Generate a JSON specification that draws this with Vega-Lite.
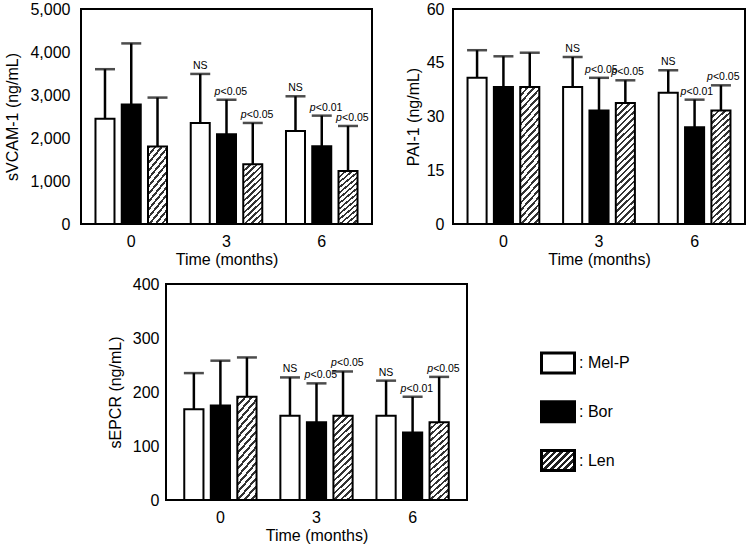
{
  "$schema": "https://vega.github.io/schema/vega-lite/v6.json",
  "padding": {"left": 3, "top": 0, "right": 0, "bottom": 0},
  "autosize": {"type": "pad"},
  "config": {
    "font": "Liberation Sans",
    "view": {"stroke": "black", "strokeWidth": 2},
    "axis": {"grid": false, "ticks": false, "domain": false, "labelFontSize": 16, "titleFontSize": 16, "labelColor": "black", "titleColor": "black", "titleFontWeight": "normal"},
    "text": {"color": "black"}
  },
  "datasets": {
    "vcam": [
      {"time": "0", "group": "Mel-P", "value": 2450, "err": 3600},
      {"time": "0", "group": "Bor", "value": 2780, "err": 4200},
      {"time": "0", "group": "Len", "value": 1800, "err": 2940},
      {"time": "3", "group": "Mel-P", "value": 2350, "err": 3490, "ns": "NS"},
      {"time": "3", "group": "Bor", "value": 2090, "err": 2890, "pv": "<0.05"},
      {"time": "3", "group": "Len", "value": 1390, "err": 2350, "pv": "<0.05"},
      {"time": "6", "group": "Mel-P", "value": 2160, "err": 2970, "ns": "NS"},
      {"time": "6", "group": "Bor", "value": 1810, "err": 2520, "pv": "<0.01"},
      {"time": "6", "group": "Len", "value": 1230, "err": 2280, "pv": "<0.05"}
    ],
    "pai": [
      {"time": "0", "group": "Mel-P", "value": 40.8, "err": 48.5},
      {"time": "0", "group": "Bor", "value": 38.2, "err": 46.8},
      {"time": "0", "group": "Len", "value": 38.2, "err": 47.8},
      {"time": "3", "group": "Mel-P", "value": 38.2, "err": 46.6, "ns": "NS"},
      {"time": "3", "group": "Bor", "value": 31.7, "err": 40.8, "pv": "<0.05"},
      {"time": "3", "group": "Len", "value": 33.8, "err": 40.1, "pv": "<0.05"},
      {"time": "6", "group": "Mel-P", "value": 36.6, "err": 42.9, "ns": "NS"},
      {"time": "6", "group": "Bor", "value": 27.0, "err": 34.7, "pv": "<0.01"},
      {"time": "6", "group": "Len", "value": 31.7, "err": 38.7, "pv": "<0.05"}
    ],
    "epcr": [
      {"time": "0", "group": "Mel-P", "value": 168, "err": 235},
      {"time": "0", "group": "Bor", "value": 175, "err": 258},
      {"time": "0", "group": "Len", "value": 191, "err": 264},
      {"time": "3", "group": "Mel-P", "value": 156, "err": 227, "ns": "NS"},
      {"time": "3", "group": "Bor", "value": 144, "err": 216, "pv": "<0.05"},
      {"time": "3", "group": "Len", "value": 156, "err": 238, "pv": "<0.05"},
      {"time": "6", "group": "Mel-P", "value": 156, "err": 221, "ns": "NS"},
      {"time": "6", "group": "Bor", "value": 125, "err": 191, "pv": "<0.01"},
      {"time": "6", "group": "Len", "value": 144, "err": 228, "pv": "<0.05"}
    ],
    "legend": [
      {"group": "Mel-P", "label": ": Mel-P", "order": 1},
      {"group": "Bor", "label": ": Bor", "order": 2},
      {"group": "Len", "label": ": Len", "order": 3}
    ]
  },
  "resolve": {"scale": {"x": "independent", "y": "independent", "xOffset": "independent"}},
  "spacing": 7,
  "vconcat": [
    {
      "hconcat": [
        {
          "width": 291, "height": 215,
          "data": {"name": "vcam"},
          "encoding": {
            "x": {"field": "time", "type": "ordinal", "scale": {"paddingInner": 0.249, "paddingOuter": 0.152}, "axis": {"title": "Time (months)", "labelAngle": 0, "labelPadding": 9, "titlePadding": 2}},
            "xOffset": {"field": "group", "type": "nominal", "scale": {"domain": ["Mel-P", "Bor", "Len"], "paddingInner": 0.276, "paddingOuter": 0}}
          },
          "layer": [
            {"mark": {"type": "rule", "color": "black", "strokeWidth": 2.5}, "encoding": {"y": {"field": "value", "type": "quantitative", "scale": {"domain": [0, 5000], "nice": false}, "axis": {"title": "sVCAM-1 (ng/mL)", "values": [0, 1000, 2000, 3000, 4000, 5000], "format": ",d", "labelPadding": 11, "titlePadding": 9}}, "y2": {"field": "err"}}},
            {"mark": {"type": "tick", "color": "black", "size": 20, "thickness": 2.5}, "encoding": {"y": {"field": "err", "type": "quantitative", "title": "sVCAM-1 (ng/mL)"}}},
            {"transform": [{"filter": "datum.group !== 'Len'"}], "mark": {"type": "bar", "stroke": "black", "strokeWidth": 2}, "encoding": {"y": {"field": "value", "type": "quantitative", "title": "sVCAM-1 (ng/mL)"}, "fill": {"field": "group", "type": "nominal", "scale": {"domain": ["Mel-P", "Bor"], "range": ["white", "black"]}, "legend": null}}},
            {"transform": [{"filter": "datum.group === 'Len'"}], "mark": {"type": "bar", "stroke": "black", "strokeWidth": 2, "fill": {"gradient": "linear", "x1": 0, "y1": 0, "x2": 0.36, "y2": 1.193, "stops": [
              {"offset": 0, "color": "#333"}, {"offset": 0.0308, "color": "#333"}, {"offset": 0.0308, "color": "#fff"}, {"offset": 0.0769, "color": "#fff"},
              {"offset": 0.0769, "color": "#333"}, {"offset": 0.1077, "color": "#333"}, {"offset": 0.1077, "color": "#fff"}, {"offset": 0.1538, "color": "#fff"},
              {"offset": 0.1538, "color": "#333"}, {"offset": 0.1846, "color": "#333"}, {"offset": 0.1846, "color": "#fff"}, {"offset": 0.2308, "color": "#fff"},
              {"offset": 0.2308, "color": "#333"}, {"offset": 0.2615, "color": "#333"}, {"offset": 0.2615, "color": "#fff"}, {"offset": 0.3077, "color": "#fff"},
              {"offset": 0.3077, "color": "#333"}, {"offset": 0.3385, "color": "#333"}, {"offset": 0.3385, "color": "#fff"}, {"offset": 0.3846, "color": "#fff"},
              {"offset": 0.3846, "color": "#333"}, {"offset": 0.4154, "color": "#333"}, {"offset": 0.4154, "color": "#fff"}, {"offset": 0.4615, "color": "#fff"},
              {"offset": 0.4615, "color": "#333"}, {"offset": 0.4923, "color": "#333"}, {"offset": 0.4923, "color": "#fff"}, {"offset": 0.5385, "color": "#fff"},
              {"offset": 0.5385, "color": "#333"}, {"offset": 0.5692, "color": "#333"}, {"offset": 0.5692, "color": "#fff"}, {"offset": 0.6154, "color": "#fff"},
              {"offset": 0.6154, "color": "#333"}, {"offset": 0.6462, "color": "#333"}, {"offset": 0.6462, "color": "#fff"}, {"offset": 0.6923, "color": "#fff"},
              {"offset": 0.6923, "color": "#333"}, {"offset": 0.7231, "color": "#333"}, {"offset": 0.7231, "color": "#fff"}, {"offset": 0.7692, "color": "#fff"},
              {"offset": 0.7692, "color": "#333"}, {"offset": 0.8, "color": "#333"}, {"offset": 0.8, "color": "#fff"}, {"offset": 0.8462, "color": "#fff"},
              {"offset": 0.8462, "color": "#333"}, {"offset": 0.8769, "color": "#333"}, {"offset": 0.8769, "color": "#fff"}, {"offset": 0.9231, "color": "#fff"},
              {"offset": 0.9231, "color": "#333"}, {"offset": 0.9538, "color": "#333"}, {"offset": 0.9538, "color": "#fff"}, {"offset": 1, "color": "#fff"}
            ]}}, "encoding": {"y": {"field": "value", "type": "quantitative", "title": "sVCAM-1 (ng/mL)"}}},
            {"transform": [{"filter": "datum.ns"}], "mark": {"type": "text", "fontSize": 10.5, "baseline": "alphabetic", "dy": -5}, "encoding": {"y": {"field": "err", "type": "quantitative", "title": "sVCAM-1 (ng/mL)"}, "text": {"field": "ns"}}},
            {"transform": [{"filter": "datum.pv"}], "mark": {"type": "text", "text": "p", "fontStyle": "italic", "fontSize": 10.5, "align": "left", "baseline": "alphabetic", "dx": -12, "dy": -5}, "encoding": {"y": {"field": "err", "type": "quantitative", "title": "sVCAM-1 (ng/mL)"}}},
            {"transform": [{"filter": "datum.pv"}], "mark": {"type": "text", "fontSize": 10.5, "align": "left", "baseline": "alphabetic", "dx": -6, "dy": -5}, "encoding": {"y": {"field": "err", "type": "quantitative", "title": "sVCAM-1 (ng/mL)"}, "text": {"field": "pv"}}}
          ]
        },
        {
          "width": 292, "height": 215,
          "data": {"name": "pai"},
          "encoding": {
            "x": {"field": "time", "type": "ordinal", "scale": {"paddingInner": 0.249, "paddingOuter": 0.152}, "axis": {"title": "Time (months)", "labelAngle": 0, "labelPadding": 9, "titlePadding": 2}},
            "xOffset": {"field": "group", "type": "nominal", "scale": {"domain": ["Mel-P", "Bor", "Len"], "paddingInner": 0.276, "paddingOuter": 0}}
          },
          "layer": [
            {"mark": {"type": "rule", "color": "black", "strokeWidth": 2.5}, "encoding": {"y": {"field": "value", "type": "quantitative", "scale": {"domain": [0, 60], "nice": false}, "axis": {"title": "PAI-1 (ng/mL)", "values": [0, 15, 30, 45, 60], "labelPadding": 9, "titlePadding": 5}}, "y2": {"field": "err"}}},
            {"mark": {"type": "tick", "color": "black", "size": 20, "thickness": 2.5}, "encoding": {"y": {"field": "err", "type": "quantitative", "title": "PAI-1 (ng/mL)"}}},
            {"transform": [{"filter": "datum.group !== 'Len'"}], "mark": {"type": "bar", "stroke": "black", "strokeWidth": 2}, "encoding": {"y": {"field": "value", "type": "quantitative", "title": "PAI-1 (ng/mL)"}, "fill": {"field": "group", "type": "nominal", "scale": {"domain": ["Mel-P", "Bor"], "range": ["white", "black"]}, "legend": null}}},
            {"transform": [{"filter": "datum.group === 'Len'"}], "mark": {"type": "bar", "stroke": "black", "strokeWidth": 2, "fill": {"gradient": "linear", "x1": 0, "y1": 0, "x2": 0.174, "y2": 1.128, "stops": [
              {"offset": 0, "color": "#333"}, {"offset": 0.0182, "color": "#333"}, {"offset": 0.0182, "color": "#fff"}, {"offset": 0.0455, "color": "#fff"},
              {"offset": 0.0455, "color": "#333"}, {"offset": 0.0636, "color": "#333"}, {"offset": 0.0636, "color": "#fff"}, {"offset": 0.0909, "color": "#fff"},
              {"offset": 0.0909, "color": "#333"}, {"offset": 0.1091, "color": "#333"}, {"offset": 0.1091, "color": "#fff"}, {"offset": 0.1364, "color": "#fff"},
              {"offset": 0.1364, "color": "#333"}, {"offset": 0.1545, "color": "#333"}, {"offset": 0.1545, "color": "#fff"}, {"offset": 0.1818, "color": "#fff"},
              {"offset": 0.1818, "color": "#333"}, {"offset": 0.2, "color": "#333"}, {"offset": 0.2, "color": "#fff"}, {"offset": 0.2273, "color": "#fff"},
              {"offset": 0.2273, "color": "#333"}, {"offset": 0.2455, "color": "#333"}, {"offset": 0.2455, "color": "#fff"}, {"offset": 0.2727, "color": "#fff"},
              {"offset": 0.2727, "color": "#333"}, {"offset": 0.2909, "color": "#333"}, {"offset": 0.2909, "color": "#fff"}, {"offset": 0.3182, "color": "#fff"},
              {"offset": 0.3182, "color": "#333"}, {"offset": 0.3364, "color": "#333"}, {"offset": 0.3364, "color": "#fff"}, {"offset": 0.3636, "color": "#fff"},
              {"offset": 0.3636, "color": "#333"}, {"offset": 0.3818, "color": "#333"}, {"offset": 0.3818, "color": "#fff"}, {"offset": 0.4091, "color": "#fff"},
              {"offset": 0.4091, "color": "#333"}, {"offset": 0.4273, "color": "#333"}, {"offset": 0.4273, "color": "#fff"}, {"offset": 0.4545, "color": "#fff"},
              {"offset": 0.4545, "color": "#333"}, {"offset": 0.4727, "color": "#333"}, {"offset": 0.4727, "color": "#fff"}, {"offset": 0.5, "color": "#fff"},
              {"offset": 0.5, "color": "#333"}, {"offset": 0.5182, "color": "#333"}, {"offset": 0.5182, "color": "#fff"}, {"offset": 0.5455, "color": "#fff"},
              {"offset": 0.5455, "color": "#333"}, {"offset": 0.5636, "color": "#333"}, {"offset": 0.5636, "color": "#fff"}, {"offset": 0.5909, "color": "#fff"},
              {"offset": 0.5909, "color": "#333"}, {"offset": 0.6091, "color": "#333"}, {"offset": 0.6091, "color": "#fff"}, {"offset": 0.6364, "color": "#fff"},
              {"offset": 0.6364, "color": "#333"}, {"offset": 0.6545, "color": "#333"}, {"offset": 0.6545, "color": "#fff"}, {"offset": 0.6818, "color": "#fff"},
              {"offset": 0.6818, "color": "#333"}, {"offset": 0.7, "color": "#333"}, {"offset": 0.7, "color": "#fff"}, {"offset": 0.7273, "color": "#fff"},
              {"offset": 0.7273, "color": "#333"}, {"offset": 0.7455, "color": "#333"}, {"offset": 0.7455, "color": "#fff"}, {"offset": 0.7727, "color": "#fff"},
              {"offset": 0.7727, "color": "#333"}, {"offset": 0.7909, "color": "#333"}, {"offset": 0.7909, "color": "#fff"}, {"offset": 0.8182, "color": "#fff"},
              {"offset": 0.8182, "color": "#333"}, {"offset": 0.8364, "color": "#333"}, {"offset": 0.8364, "color": "#fff"}, {"offset": 0.8636, "color": "#fff"},
              {"offset": 0.8636, "color": "#333"}, {"offset": 0.8818, "color": "#333"}, {"offset": 0.8818, "color": "#fff"}, {"offset": 0.9091, "color": "#fff"},
              {"offset": 0.9091, "color": "#333"}, {"offset": 0.9273, "color": "#333"}, {"offset": 0.9273, "color": "#fff"}, {"offset": 0.9545, "color": "#fff"},
              {"offset": 0.9545, "color": "#333"}, {"offset": 0.9727, "color": "#333"}, {"offset": 0.9727, "color": "#fff"}, {"offset": 1, "color": "#fff"}
            ]}}, "encoding": {"y": {"field": "value", "type": "quantitative", "title": "PAI-1 (ng/mL)"}}},
            {"transform": [{"filter": "datum.ns"}], "mark": {"type": "text", "fontSize": 10.5, "baseline": "alphabetic", "dy": -5}, "encoding": {"y": {"field": "err", "type": "quantitative", "title": "PAI-1 (ng/mL)"}, "text": {"field": "ns"}}},
            {"transform": [{"filter": "datum.pv"}], "mark": {"type": "text", "text": "p", "fontStyle": "italic", "fontSize": 10.5, "align": "left", "baseline": "alphabetic", "dx": -14, "dy": -5}, "encoding": {"y": {"field": "err", "type": "quantitative", "title": "PAI-1 (ng/mL)"}}},
            {"transform": [{"filter": "datum.pv"}], "mark": {"type": "text", "fontSize": 10.5, "align": "left", "baseline": "alphabetic", "dx": -8, "dy": -5}, "encoding": {"y": {"field": "err", "type": "quantitative", "title": "PAI-1 (ng/mL)"}, "text": {"field": "pv"}}}
          ]
        }
      ],
      "spacing": 31,
      "resolve": {"scale": {"x": "independent", "y": "independent", "xOffset": "independent"}}
    },
    {
      "hconcat": [
        {
          "width": 13, "height": 216,
          "view": {"stroke": null},
          "data": {"values": [{"blank": ""}]},
          "mark": {"type": "text", "text": ""}
        },
        {
          "width": 301, "height": 216,
          "data": {"name": "epcr"},
          "encoding": {
            "x": {"field": "time", "type": "ordinal", "scale": {"paddingInner": 0.248, "paddingOuter": 0.19}, "axis": {"title": "Time (months)", "labelAngle": 0, "labelPadding": 9, "titlePadding": 2}},
            "xOffset": {"field": "group", "type": "nominal", "scale": {"domain": ["Mel-P", "Bor", "Len"], "paddingInner": 0.276, "paddingOuter": 0}}
          },
          "layer": [
            {"mark": {"type": "rule", "color": "black", "strokeWidth": 2.5}, "encoding": {"y": {"field": "value", "type": "quantitative", "scale": {"domain": [0, 400], "nice": false}, "axis": {"title": "sEPCR (ng/mL)", "values": [0, 100, 200, 300, 400], "labelPadding": 7, "titlePadding": 9}}, "y2": {"field": "err"}}},
            {"mark": {"type": "tick", "color": "black", "size": 20, "thickness": 2.5}, "encoding": {"y": {"field": "err", "type": "quantitative", "title": "sEPCR (ng/mL)"}}},
            {"transform": [{"filter": "datum.group !== 'Len'"}], "mark": {"type": "bar", "stroke": "black", "strokeWidth": 2}, "encoding": {"y": {"field": "value", "type": "quantitative", "title": "sEPCR (ng/mL)"}, "fill": {"field": "group", "type": "nominal", "scale": {"domain": ["Mel-P", "Bor"], "range": ["white", "black"]}, "legend": null}}},
            {"transform": [{"filter": "datum.group === 'Len'"}], "mark": {"type": "bar", "stroke": "black", "strokeWidth": 2, "fill": {"gradient": "linear", "x1": 0, "y1": 0, "x2": 0.251, "y2": 1.162, "stops": [
              {"offset": 0, "color": "#333"}, {"offset": 0.025, "color": "#333"}, {"offset": 0.025, "color": "#fff"}, {"offset": 0.0625, "color": "#fff"},
              {"offset": 0.0625, "color": "#333"}, {"offset": 0.0875, "color": "#333"}, {"offset": 0.0875, "color": "#fff"}, {"offset": 0.125, "color": "#fff"},
              {"offset": 0.125, "color": "#333"}, {"offset": 0.15, "color": "#333"}, {"offset": 0.15, "color": "#fff"}, {"offset": 0.1875, "color": "#fff"},
              {"offset": 0.1875, "color": "#333"}, {"offset": 0.2125, "color": "#333"}, {"offset": 0.2125, "color": "#fff"}, {"offset": 0.25, "color": "#fff"},
              {"offset": 0.25, "color": "#333"}, {"offset": 0.275, "color": "#333"}, {"offset": 0.275, "color": "#fff"}, {"offset": 0.3125, "color": "#fff"},
              {"offset": 0.3125, "color": "#333"}, {"offset": 0.3375, "color": "#333"}, {"offset": 0.3375, "color": "#fff"}, {"offset": 0.375, "color": "#fff"},
              {"offset": 0.375, "color": "#333"}, {"offset": 0.4, "color": "#333"}, {"offset": 0.4, "color": "#fff"}, {"offset": 0.4375, "color": "#fff"},
              {"offset": 0.4375, "color": "#333"}, {"offset": 0.4625, "color": "#333"}, {"offset": 0.4625, "color": "#fff"}, {"offset": 0.5, "color": "#fff"},
              {"offset": 0.5, "color": "#333"}, {"offset": 0.525, "color": "#333"}, {"offset": 0.525, "color": "#fff"}, {"offset": 0.5625, "color": "#fff"},
              {"offset": 0.5625, "color": "#333"}, {"offset": 0.5875, "color": "#333"}, {"offset": 0.5875, "color": "#fff"}, {"offset": 0.625, "color": "#fff"},
              {"offset": 0.625, "color": "#333"}, {"offset": 0.65, "color": "#333"}, {"offset": 0.65, "color": "#fff"}, {"offset": 0.6875, "color": "#fff"},
              {"offset": 0.6875, "color": "#333"}, {"offset": 0.7125, "color": "#333"}, {"offset": 0.7125, "color": "#fff"}, {"offset": 0.75, "color": "#fff"},
              {"offset": 0.75, "color": "#333"}, {"offset": 0.775, "color": "#333"}, {"offset": 0.775, "color": "#fff"}, {"offset": 0.8125, "color": "#fff"},
              {"offset": 0.8125, "color": "#333"}, {"offset": 0.8375, "color": "#333"}, {"offset": 0.8375, "color": "#fff"}, {"offset": 0.875, "color": "#fff"},
              {"offset": 0.875, "color": "#333"}, {"offset": 0.9, "color": "#333"}, {"offset": 0.9, "color": "#fff"}, {"offset": 0.9375, "color": "#fff"},
              {"offset": 0.9375, "color": "#333"}, {"offset": 0.9625, "color": "#333"}, {"offset": 0.9625, "color": "#fff"}, {"offset": 1, "color": "#fff"}
            ]}}, "encoding": {"y": {"field": "value", "type": "quantitative", "title": "sEPCR (ng/mL)"}}},
            {"transform": [{"filter": "datum.ns"}], "mark": {"type": "text", "fontSize": 10.5, "baseline": "alphabetic", "dy": -5}, "encoding": {"y": {"field": "err", "type": "quantitative", "title": "sEPCR (ng/mL)"}, "text": {"field": "ns"}}},
            {"transform": [{"filter": "datum.pv"}], "mark": {"type": "text", "text": "p", "fontStyle": "italic", "fontSize": 10.5, "align": "left", "baseline": "alphabetic", "dx": -12, "dy": -5}, "encoding": {"y": {"field": "err", "type": "quantitative", "title": "sEPCR (ng/mL)"}}},
            {"transform": [{"filter": "datum.pv"}], "mark": {"type": "text", "fontSize": 10.5, "align": "left", "baseline": "alphabetic", "dx": -6, "dy": -5}, "encoding": {"y": {"field": "err", "type": "quantitative", "title": "sEPCR (ng/mL)"}, "text": {"field": "pv"}}}
          ]
        },
        {
          "width": 156, "height": 216,
          "view": {"stroke": null},
          "data": {"name": "legend"},
          "encoding": {"y": {"field": "order", "type": "quantitative", "scale": {"domain": [-0.62, 3.81], "reverse": true, "nice": false, "zero": false}, "axis": null}},
          "layer": [
            {"transform": [{"filter": "datum.group !== 'Len'"}], "mark": {"type": "point", "shape": "M-1.65,-1H1.65V1H-1.65Z", "size": 400, "filled": true, "stroke": "black", "strokeWidth": 3, "opacity": 1}, "encoding": {"fill": {"field": "group", "type": "nominal", "scale": {"domain": ["Mel-P", "Bor"], "range": ["white", "black"]}, "legend": null}}},
            {"transform": [{"filter": "datum.group === 'Len'"}], "mark": {"type": "point", "shape": "M-1.65,-1H1.65V1H-1.65Z", "size": 400, "filled": true, "stroke": "black", "strokeWidth": 3, "opacity": 1, "fill": {"gradient": "linear", "x1": 0, "y1": 0, "x2": 1.175, "y2": 0.712, "stops": [
              {"offset": 0, "color": "#222"}, {"offset": 0.07, "color": "#222"}, {"offset": 0.07, "color": "#fff"}, {"offset": 0.125, "color": "#fff"},
              {"offset": 0.125, "color": "#222"}, {"offset": 0.195, "color": "#222"}, {"offset": 0.195, "color": "#fff"}, {"offset": 0.25, "color": "#fff"},
              {"offset": 0.25, "color": "#222"}, {"offset": 0.32, "color": "#222"}, {"offset": 0.32, "color": "#fff"}, {"offset": 0.375, "color": "#fff"},
              {"offset": 0.375, "color": "#222"}, {"offset": 0.445, "color": "#222"}, {"offset": 0.445, "color": "#fff"}, {"offset": 0.5, "color": "#fff"},
              {"offset": 0.5, "color": "#222"}, {"offset": 0.57, "color": "#222"}, {"offset": 0.57, "color": "#fff"}, {"offset": 0.625, "color": "#fff"},
              {"offset": 0.625, "color": "#222"}, {"offset": 0.695, "color": "#222"}, {"offset": 0.695, "color": "#fff"}, {"offset": 0.75, "color": "#fff"},
              {"offset": 0.75, "color": "#222"}, {"offset": 0.82, "color": "#222"}, {"offset": 0.82, "color": "#fff"}, {"offset": 0.875, "color": "#fff"},
              {"offset": 0.875, "color": "#222"}, {"offset": 0.945, "color": "#222"}, {"offset": 0.945, "color": "#fff"}, {"offset": 1, "color": "#fff"}
            ]}}},
            {"mark": {"type": "text", "align": "left", "baseline": "middle", "dx": 21, "fontSize": 16}, "encoding": {"text": {"field": "label"}}}
          ]
        }
      ],
      "spacing": 12,
      "resolve": {"scale": {"x": "independent", "y": "independent", "xOffset": "independent"}}
    }
  ]
}
